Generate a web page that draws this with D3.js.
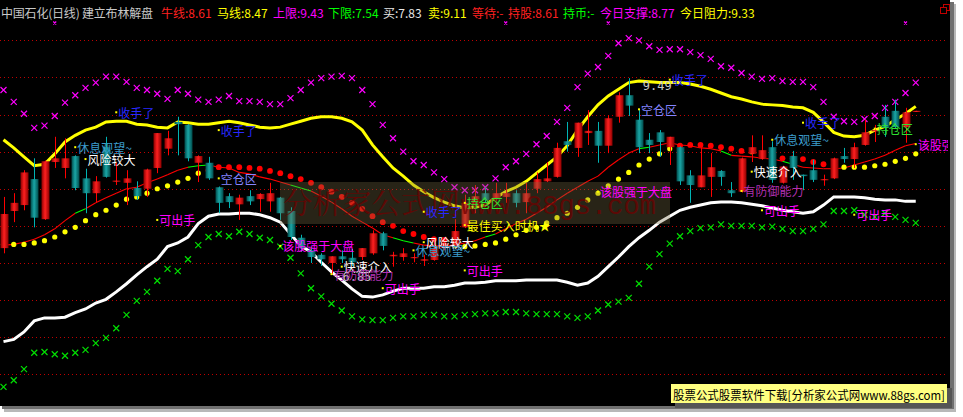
<!DOCTYPE html>
<html><head><meta charset="utf-8">
<script src="https://cdn.jsdelivr.net/npm/d3@7"></script>
<style>
html,body{margin:0;padding:0;background:#fff;overflow:hidden}
svg{display:block}
text{font-family:"Noto Sans CJK SC","Noto Sans",sans-serif}
</style></head><body>
<svg id="c" width="963" height="417"></svg>
<script>
// ---- data (price units) ----
const open =[7.20,7.70,7.78,8.13,7.59,8.36,8.28,8.44,8.14,7.94,8.56,8.10,8.08,8.01,8.00,8.28,8.54,8.90,8.86,8.35,8.35,8.02,7.90,7.79,7.90,7.86,7.83,7.88,7.70,7.34,7.17,7.11,7.00,7.09,7.07,7.08,7.13,7.40,7.09,7.08,7.07,7.03,7.04,7.20,7.23,7.48,7.77,7.94,7.86,7.89,7.94,7.82,8.00,8.10,8.16,8.64,8.55,8.75,8.78,8.58,8.97,9.26,8.93,8.66,8.76,8.56,8.56,8.18,8.02,8.16,8.24,7.98,7.96,8.47,8.40,8.56,8.08,8.44,8.19,8.25,8.12,8.14,8.44,8.40,8.59,8.78,8.97,9.05,8.83,9.04];
const high =[7.89,7.94,8.25,8.41,8.38,8.70,8.68,8.45,8.27,8.17,8.70,8.35,8.25,8.10,8.27,8.75,8.78,8.97,8.87,8.45,8.43,8.03,7.94,7.92,7.98,7.94,8.08,7.89,7.75,7.38,7.22,7.13,7.09,7.17,7.19,7.20,7.44,7.42,7.15,7.20,7.13,7.11,7.34,7.34,7.59,7.92,8.05,8.02,8.08,8.08,7.98,8.08,8.22,8.36,8.62,8.90,8.89,9.06,8.90,8.99,9.30,9.49,9.06,8.75,8.79,8.70,8.57,8.25,8.58,8.48,8.25,8.09,8.42,8.72,8.72,8.64,8.31,8.51,8.19,8.39,8.19,8.42,8.55,8.62,8.93,8.86,9.13,9.20,9.09,9.05];
const low  =[7.13,7.55,7.71,7.48,7.58,8.28,8.14,7.98,7.67,7.81,8.15,8.05,7.78,7.85,7.89,8.21,8.45,8.45,8.37,8.09,8.12,7.67,7.74,7.58,7.78,7.69,7.69,7.58,7.31,7.15,7.00,6.96,6.85,7.00,6.96,7.04,7.11,7.17,6.95,7.03,7.01,6.96,7.03,7.17,7.22,7.47,7.67,7.78,7.78,7.81,7.75,7.67,7.94,8.09,8.15,8.50,8.43,8.59,8.35,8.48,8.89,8.98,8.48,8.48,8.43,8.32,8.05,7.81,8.02,7.89,8.04,7.89,7.95,8.36,8.39,8.08,8.07,8.12,7.98,8.09,8.04,8.13,8.35,8.28,8.58,8.63,8.70,8.82,8.62,9.04];
const close=[7.66,7.81,8.22,7.61,8.37,8.41,8.41,8.01,7.94,8.10,8.16,8.11,8.14,7.90,8.26,8.75,8.68,8.87,8.41,8.44,8.14,7.81,7.82,7.88,7.83,7.93,7.94,7.67,7.35,7.20,7.08,7.05,7.09,7.05,7.01,7.20,7.40,7.23,7.11,7.13,7.08,7.05,7.19,7.27,7.43,7.81,7.90,7.85,7.94,7.94,7.81,7.94,8.13,8.14,8.55,8.59,8.89,8.78,8.58,8.95,9.26,9.12,8.56,8.59,8.63,8.70,8.10,8.05,8.18,8.29,8.16,7.94,8.41,8.56,8.52,8.12,8.30,8.28,8.17,8.12,8.13,8.41,8.40,8.56,8.76,8.79,8.82,8.83,9.03,9.05];
// 上限 (yellow band) and 下限 band (white)
const upperBand=[8.66,8.55,8.43,8.31,8.33,8.47,8.63,8.72,8.79,8.83,8.90,8.91,8.91,8.87,8.86,8.83,8.82,8.90,8.89,8.87,8.87,8.89,8.91,8.89,8.86,8.83,8.82,8.83,8.87,8.91,8.95,8.97,8.97,8.95,8.90,8.79,8.59,8.43,8.28,8.17,8.05,7.96,7.88,7.82,7.77,7.74,7.75,7.78,7.88,7.96,8.02,8.10,8.21,8.32,8.43,8.58,8.79,8.97,9.13,9.25,9.34,9.43,9.45,9.44,9.43,9.43,9.43,9.41,9.38,9.34,9.29,9.24,9.21,9.17,9.14,9.13,9.12,9.10,9.09,9.03,8.90,8.76,8.71,8.70,8.72,8.79,8.84,8.93,9.01,9.11];
const lowerBand=[5.94,5.97,6.07,6.22,6.26,6.26,6.27,6.33,6.38,6.46,6.51,6.61,6.72,6.84,6.95,7.05,7.22,7.27,7.35,7.53,7.63,7.66,7.66,7.67,7.67,7.65,7.61,7.55,7.39,7.23,7.15,7.01,6.88,6.77,6.65,6.55,6.54,6.57,6.62,6.66,6.66,6.66,6.68,6.68,6.70,6.73,6.73,6.74,6.76,6.76,6.76,6.77,6.77,6.77,6.77,6.74,6.70,6.73,6.82,6.95,7.08,7.22,7.34,7.44,7.55,7.63,7.71,7.75,7.78,7.81,7.82,7.82,7.81,7.79,7.77,7.74,7.71,7.69,7.67,7.69,7.78,7.89,7.89,7.89,7.88,7.86,7.85,7.85,7.83,7.83];
// 牛线 (thin line) and its state (1 = green segment)
const bullLine=[7.24,7.25,7.28,7.32,7.38,7.46,7.57,7.67,7.73,7.81,7.88,7.94,8.00,8.02,8.08,8.13,8.19,8.25,8.29,8.31,8.32,8.29,8.28,8.22,8.20,8.16,8.13,8.09,8.05,8.01,7.97,7.90,7.82,7.73,7.63,7.55,7.47,7.38,7.34,7.30,7.27,7.24,7.23,7.23,7.24,7.27,7.30,7.35,7.39,7.46,7.53,7.59,7.67,7.75,7.85,7.94,8.02,8.10,8.17,8.29,8.39,8.48,8.54,8.56,8.59,8.62,8.59,8.58,8.55,8.54,8.51,8.45,8.44,8.43,8.41,8.40,8.37,8.33,8.29,8.28,8.27,8.27,8.28,8.32,8.36,8.40,8.45,8.52,8.58,8.61];
const bullState=[0,0,0,0,0,0,0,1,0,0,0,0,0,0,0,0,0,0,1,1,0,0,0,0,0,0,0,0,1,1,0,0,0,0,0,0,0,0,1,1,0,0,0,0,0,0,0,1,0,0,0,0,0,0,0,0,0,0,0,0,0,0,1,0,0,0,0,0,0,0,1,0,0,0,0,0,1,0,0,0,0,0,0,0,0,0,0,0,0,0];
// 马线 (dotted line)
const horseLine=[7.25,7.25,7.25,7.27,7.30,7.35,7.42,7.48,7.57,7.65,7.71,7.78,7.86,7.89,7.94,8.00,8.04,8.09,8.14,8.21,8.25,8.29,8.29,8.29,8.28,8.27,8.24,8.21,8.17,8.13,8.08,8.02,7.96,7.89,7.81,7.73,7.63,7.55,7.50,7.43,7.39,7.35,7.32,7.31,7.24,7.22,7.23,7.25,7.27,7.32,7.38,7.44,7.48,7.54,7.61,7.67,7.75,7.85,7.94,8.04,8.13,8.22,8.32,8.40,8.47,8.54,8.58,8.59,8.59,8.58,8.56,8.54,8.51,8.50,8.47,8.44,8.41,8.41,8.40,8.36,8.33,8.31,8.29,8.29,8.29,8.31,8.33,8.37,8.41,8.47];
// 上限 / 下限 markers
const upLimit=[9.33,9.17,9.01,8.82,8.85,8.98,9.16,9.26,9.36,9.43,9.51,9.51,9.44,9.36,9.33,9.28,9.21,9.33,9.28,9.20,9.17,9.20,9.25,9.18,9.18,9.17,9.14,9.14,9.22,9.33,9.43,9.49,9.51,9.52,9.49,9.33,9.14,8.86,8.68,8.50,8.37,8.32,8.22,8.13,8.02,7.98,7.98,8.02,8.14,8.29,8.37,8.47,8.60,8.71,8.90,9.09,9.37,9.55,9.64,9.79,9.96,10.03,10.00,9.92,9.87,9.88,9.88,9.84,9.80,9.75,9.65,9.63,9.56,9.51,9.48,9.49,9.45,9.44,9.44,9.37,9.17,8.97,8.91,8.90,8.94,8.98,9.09,9.17,9.29,9.43];
const downLimit=[5.33,5.42,5.57,5.79,5.80,5.77,5.75,5.79,5.83,5.92,5.99,6.12,6.30,6.49,6.61,6.76,6.92,6.89,7.05,7.24,7.35,7.39,7.36,7.42,7.39,7.34,7.31,7.22,7.07,6.86,6.66,6.55,6.45,6.36,6.28,6.24,6.23,6.23,6.26,6.28,6.28,6.30,6.30,6.28,6.28,6.30,6.31,6.32,6.32,6.34,6.34,6.32,6.31,6.31,6.31,6.28,6.26,6.28,6.36,6.44,6.48,6.53,6.72,6.95,7.12,7.26,7.36,7.43,7.47,7.48,7.52,7.50,7.50,7.50,7.48,7.49,7.46,7.43,7.43,7.46,7.52,7.70,7.70,7.71,7.65,7.62,7.67,7.62,7.58,7.54];
const topSignals=[5,49,59,88];
const gridPrices=[10,9.5,9,8.5,8,7.5,7,6.5,6,5.5];
const labelText=["风险较大","风险较大","收手了","收手了","收手了","收手了","收手了","休息观望~","休息观望~","休息观望~","空仓区","空仓区","可出手","可出手","可出手","可出手","可出手","该股强于大盘","该股强于大盘","该股强于大盘","快速介入","快速介入","有防御能力","有防御能力","持仓区","持仓区","最佳买入时机★"];
const labelIdx =[8,41,11,21,41,65,78,7,40,75,21,62,15,37,45,74,83,27,58,89,33,73,32,72,45,85,45];
const labelVal =[8.40,7.28,9.03,8.79,7.69,9.47,8.89,8.56,7.17,8.66,8.14,9.07,7.58,6.66,6.90,7.71,7.65,7.23,7.96,8.60,6.95,8.23,6.85,7.97,7.81,8.81,7.51];
const extremeIdx=[61,32];
const headerText=["中国石化(日线) 建立布林解盘","牛线:8.61","马线:8.47","上限:9.43","下限:7.54","买:7.83","卖:9.11","等待:-","持股:8.61","持币:-","今日支撑:8.77","今日阻力:9.33"];

// ---- styles ----
const headerX=[1,161,217,273,328,383,428,472,508,563,600,680];
const headerColor=["#c8c8c8","#ff2020","#ffff00","#ff00ff","#00ff00","#e8e8e8","#ffff00","#ff2020","#ff2020","#00ff00","#ff00ff","#ffff00"];
const labelColor={"收手了":"#2828ff","休息观望~":"#3c9ccc","风险较大":"#ffffff","空仓区":"#8484ff","可出手":"#ff00ff","该股强于大盘":"#ff00ff","快速介入":"#ffffff","有防御能力":"#b030b0","持仓区":"#30e030","最佳买入时机★":"#ffff00"};

const svg=d3.select('#c');
const defs=svg.append('defs');
function grad(id,edge,mid){
  const g=defs.append('linearGradient').attr('id',id).attr('x1',0).attr('x2',1).attr('y1',0).attr('y2',0);
  g.append('stop').attr('offset','0%').attr('stop-color',edge);
  g.append('stop').attr('offset','45%').attr('stop-color',mid);
  g.append('stop').attr('offset','100%').attr('stop-color',edge);
}
grad('gUp','#8c0000','#ff2020');
grad('gDn','#004a4a','#1aa6a6');
defs.append('clipPath').attr('id','plotClip').append('rect').attr('x',0).attr('y',19).attr('width',948).attr('height',387);

// frame
svg.append('rect').attr('width',963).attr('height',417).attr('fill','#ffffff');
svg.append('rect').attr('x',4).attr('y',4).attr('width',952).attr('height',408).attr('fill','#b8b8b8');
svg.append('rect').attr('x',2).attr('y',2).attr('width',952).attr('height',407).attr('fill','#707070');
svg.append('rect').attr('x',0).attr('y',0).attr('width',950).attr('height',406).attr('fill','#000');

const x=d3.scalePoint().domain(d3.range(open.length)).range([3.5,915.75]);
const y=d3.scaleLinear().domain([5.5,10]).range([374.3,40.3]);

const plot=svg.append('g').attr('clip-path','url(#plotClip)');

// grid
plot.selectAll('line.grid').data(gridPrices).join('line').attr('class','grid')
  .attr('x1',0).attr('x2',948).attr('y1',d=>Math.round(y(d))+0.5).attr('y2',d=>Math.round(y(d))+0.5)
  .attr('stroke','#c00000').attr('stroke-width',1).attr('stroke-dasharray','1,3');

const line=d3.line().x((d,i)=>x(i)).y(d=>y(d));
plot.append('path').attr('d',line(lowerBand)).attr('fill','none').attr('stroke','#ffffff').attr('stroke-width',3);
plot.append('path').attr('d',line(upperBand)).attr('fill','none').attr('stroke','#ffff00').attr('stroke-width',3);

// bull line segments
const segs=d3.range(bullLine.length-1);
plot.selectAll('line.bull').data(segs).join('line').attr('class','bull')
  .attr('x1',i=>x(i)).attr('y1',i=>y(bullLine[i])).attr('x2',i=>x(i+1)).attr('y2',i=>y(bullLine[i+1]))
  .attr('stroke',i=>bullState[i]?'#00ff00':'#ff0000').attr('stroke-width',1.1);

// horse dots
plot.selectAll('circle.horse').data(horseLine).join('circle').attr('class','horse')
  .attr('cx',(d,i)=>x(i)).attr('cy',d=>y(d)).attr('r',(d,i)=>d<=close[i]?2.6:2.9)
  .attr('fill',(d,i)=>d<=close[i]?'#ffff00':'#ff0000');

// crosses
const cross='M-3,-3L3,3M-3,3L3,-3';
plot.selectAll('path.up').data(upLimit).join('path').attr('class','up')
  .attr('transform',(d,i)=>`translate(${x(i)},${y(d)})`).attr('d',cross)
  .attr('stroke','#ff00ff').attr('stroke-width',1.2).attr('fill','none');
plot.selectAll('path.dn').data(downLimit).join('path').attr('class','dn')
  .attr('transform',(d,i)=>`translate(${x(i)},${y(d)})`).attr('d',cross)
  .attr('stroke','#00e000').attr('stroke-width',1.2).attr('fill','none');
svg.selectAll('path.sig').data(topSignals).join('path').attr('class','sig')
  .attr('transform',i=>`translate(${x(i)},23)`).attr('d','M-1.5,-1.5L1.5,1.5M-1.5,1.5L1.5,-1.5')
  .attr('stroke','#ff00ff').attr('stroke-width',1.2);

// candles
const bw=8;
const cg=plot.selectAll('g.k').data(d3.range(open.length)).join('g').attr('class','k');
cg.append('line').attr('x1',i=>Math.round(x(i))+0.5).attr('x2',i=>Math.round(x(i))+0.5)
  .attr('y1',i=>y(high[i])).attr('y2',i=>y(low[i]))
  .attr('stroke',i=>close[i]>=open[i]?'#ff0000':'#00b4b4').attr('stroke-width',1);
cg.append('rect').attr('x',i=>Math.round(x(i))-bw/2+0.5).attr('width',bw)
  .attr('y',i=>y(Math.max(open[i],close[i])))
  .attr('height',i=>Math.max(1.2,Math.abs(y(open[i])-y(close[i]))))
  .attr('fill',i=>close[i]>=open[i]?'url(#gUp)':'url(#gDn)');

// extreme price labels
svg.selectAll('text.ext').data(extremeIdx).join('text').attr('class','ext')
  .attr('x',i=>x(i)+ (i===61?14:11)).attr('y',i=>i===61?y(high[i])+8:y(low[i])+3)
  .attr('dominant-baseline','central').attr('font-size',12).attr('fill','#c8c8c8')
  .style('font-family','"DejaVu Sans Mono",monospace')
  .text(i=>i===61?high[i].toFixed(2):low[i].toFixed(2));

// watermark
const wm=svg.append('g');
wm.append('rect').attr('x',280).attr('y',182).attr('width',390).attr('height',42).attr('fill','rgba(120,108,70,0.33)');
wm.append('text').attr('x',283).attr('y',214).attr('font-size',29).attr('fill','rgba(110,0,0,0.75)')
  .attr('textLength',177).attr('lengthAdjust','spacingAndGlyphs').style('font-family','"Noto Serif CJK SC","Noto Sans CJK SC",serif').text('分析家公式网');
wm.append('text').attr('x',461).attr('y',214).attr('font-size',27).attr('fill','rgba(110,0,0,0.75)')
  .attr('textLength',195).attr('lengthAdjust','spacingAndGlyphs').style('font-family','"Liberation Mono",monospace').text('www.88gs.com');

// annotation labels
const lab=svg.append('g').attr('clip-path','url(#plotClip)');
const lg=lab.selectAll('g.lab').data(d3.range(labelText.length)).join('g').attr('class','lab');
lg.append('rect').attr('x',j=>x(labelIdx[j])-1).attr('y',j=>y(labelVal[j])-1).attr('width',2).attr('height',2).attr('fill','#ffff00');
lg.append('text').attr('x',j=>x(labelIdx[j])+2).attr('y',j=>y(labelVal[j]))
  .attr('dominant-baseline','central').attr('font-size',12)
  .attr('fill',j=>labelColor[labelText[j]]).text(j=>labelText[j]);

// header
svg.selectAll('text.hd').data(headerText).join('text').attr('class','hd')
  .attr('x',(d,i)=>headerX[i]).attr('y',12).attr('dominant-baseline','central')
  .attr('font-size',12).attr('fill',(d,i)=>headerColor[i])
  .attr('textLength',(d,i)=>i===0?152:null)
  .text(d=>d);

// window icon
svg.append('rect').attr('x',943.5).attr('y',4.5).attr('width',6).attr('height',6).attr('fill','none').attr('stroke','#c00000');
svg.append('rect').attr('x',940.5).attr('y',7.5).attr('width',6).attr('height',6).attr('fill','#000').attr('stroke','#c00000');

// bottom-right banner
svg.append('rect').attr('x',675).attr('y',388).attr('width',277).attr('height',20).attr('fill','#555');
svg.append('rect').attr('x',671).attr('y',384).attr('width',276).attr('height',19).attr('fill','#ffff80');
svg.append('text').attr('x',673).attr('y',394).attr('dominant-baseline','central').attr('font-size',12)
  .attr('fill','#000').attr('textLength',272).attr('lengthAdjust','spacingAndGlyphs')
  .text('股票公式股票软件下载[分析家公式网www.88gs.com]');
</script>
</body></html>
